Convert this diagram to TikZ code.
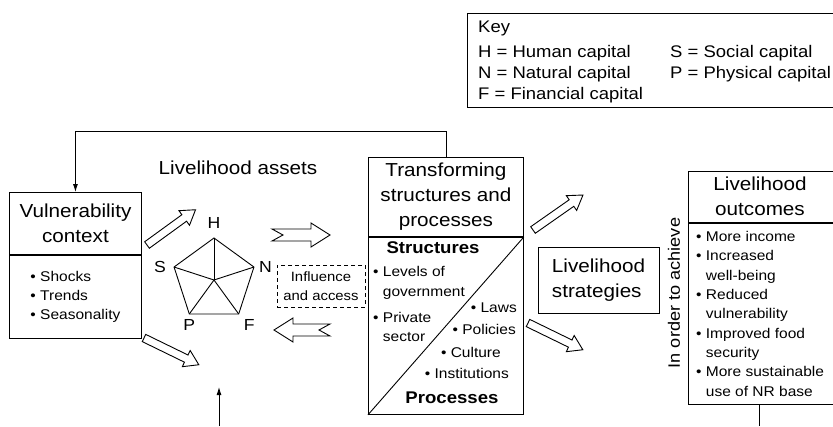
\documentclass[tikz,border=0pt]{standalone}
\usepackage{fontspec}
\setmainfont{Liberation Sans}[FakeStretch=1.1]
\usetikzlibrary{arrows.meta,positioning}

\tikzset{
  box/.style={draw, line width=0.9pt, inner sep=0pt},
  ttl/.style={font=\fontsize{18.8}{25}\selectfont, align=center},
  lst/.style={font=\fontsize{14.1}{19.3}\selectfont, align=left, inner sep=0pt},
  keytxt/.style={font=\fontsize{16.8}{21}\selectfont, anchor=base west, inner sep=0pt},
  hdr/.style={font=\bfseries\fontsize{16.9}{20}\selectfont, inner sep=0pt},
  vtxlbl/.style={font=\fontsize{16}{18}\selectfont, inner sep=0pt},
  arr/.style={line width=0.9pt, -{Latex[length=8pt,width=5pt]}},
  hollow/.style={line width=0.9pt, line join=miter}
}

% start, angle, length
\newcommand{\blockarrow}[3]{%
  \draw[hollow, shift={#1}, rotate=#2] (0,-4) -- ({#3-14},-4) -- ({#3-14},-9) -- (#3,0)
    -- ({#3-14},9) -- ({#3-14},4) -- (0,4) -- cycle;}
\newcommand{\notcharrow}[3]{%
  \draw[hollow, shift={#1}, rotate=#2] (0,-6) -- ({#3-19},-6) -- ({#3-19},-12) -- (#3,0)
    -- ({#3-19},12) -- ({#3-19},6) -- (0,6) -- (11,0) -- cycle;}

\begin{document}
\begin{tikzpicture}[x=1pt,y=-1pt]
\useasboundingbox (0,0) rectangle (833,426);

% key (runs off the right edge)
\node[box, anchor=north west, minimum width=420, minimum height=94] (keybox) at (467,13) {};
\node[keytxt] (keyhd) at (478,32) {Key};
\node[keytxt] (keyH) at (478,57) {H = Human capital};
\node[keytxt] (keyN) at (478,78) {N = Natural capital};
\node[keytxt] (keyF) at (478,99) {F = Financial capital};
\node[keytxt] (keyS) at (670,57) {S = Social capital};
\node[keytxt] (keyP) at (670,78) {P = Physical capital};

% vulnerability context
\node[box, ttl, anchor=north west, minimum width=132, minimum height=62] (vultitle) at (9,192) {Vulnerability\\context};
\node[box, anchor=north, minimum width=132, minimum height=83] (vulbody) at (vultitle.south) {};
\node[lst] (vullist) at (vulbody) {• Shocks\\• Trends\\• Seasonality};

% livelihood assets
\node[ttl] (assets) at (238,168) {Livelihood assets};
\coordinate (ctr) at (214,280);
\begin{scope}[shift={(ctr)}, yscale=-1]
  \foreach \n/\a in {H/90,N/18,F/-54,P/-126,S/162}
    \coordinate (\n) at (\a:42);
\end{scope}
\draw[hollow] (H) -- (N) -- (F) -- (P) -- (S) -- cycle;
\foreach \n in {H,N,F,P,S}
  \draw[line width=0.9pt] (ctr) -- (\n);
\node[vtxlbl, above=9pt of H] (Hlbl) {H};
\node[vtxlbl, left=8pt of S] (Slbl) {S};
\node[vtxlbl, right=5pt of N] (Nlbl) {N};
\node[vtxlbl, below=5pt of P] (Plbl) {P};
\node[vtxlbl, below right=5pt and 5pt of F] (Flbl) {F};

% transforming structures and processes
\node[box, ttl, anchor=north west, minimum width=155, minimum height=79] (trtitle) at (368,157) {Transforming\\structures and\\processes};
\node[box, anchor=north, minimum width=155, minimum height=177] (trbody) at (trtitle.south) {};
\draw[line width=0.9pt] (trbody.south west) -- (trbody.north east);
\node[hdr, anchor=base] (strhd) at (433,253) {Structures};
\node[lst, anchor=north west] (gov) at (373,266.5) {• Levels of\\\hphantom{• }government};
\node[lst, anchor=north west] (priv) at (373,312) {• Private\\\hphantom{• }sector};
\node[lst, anchor=base east] (laws) at (517,312) {• Laws};
\node[lst, anchor=base east] (pol) at (516,334) {• Policies};
\node[lst, anchor=base east] (cult) at (501,357) {• Culture};
\node[lst, anchor=base east] (inst) at (509,378) {• Institutions};
\node[hdr, anchor=base] (prochd) at (452,403) {Processes};

\node[box, dash pattern=on 4pt off 3pt, line width=0.8pt, minimum width=88, minimum height=42,
  font=\fontsize{13.5}{19}\selectfont, align=center] (infl) at (321,286) {Influence\\and access};

% feedback
\draw[arr] (trtitle.north) -- ++(0,-26) -| (vultitle.north);

% strategies and outcomes (outcomes box runs off the right edge)
\node[box, ttl, align=left, minimum width=121, minimum height=66] (strat) at (598.5,280) {Livelihood\\strategies};
\node[font=\fontsize{16.5}{20}\selectfont, rotate=90] (achieve) at (674,293) {In order to achieve};
\node[box, anchor=north west, minimum width=190, minimum height=51] (outtitle) at (688,171) {};
\node[ttl] (outttl) at (760,196.5) {Livelihood\\outcomes};
\node[box, anchor=north, minimum width=190, minimum height=181] (outbody) at (outtitle.south) {};
\node[lst, anchor=west] (outlist) at ([xshift=8pt]outbody.west) {• More income\\• Increased\\\hphantom{• }well-being\\• Reduced\\\hphantom{• }vulnerability\\• Improved food\\\hphantom{• }security\\• More sustainable\\\hphantom{• }use of NR base};

% block arrows
\blockarrow{(147,245)}{36}{60}
\blockarrow{(144,338)}{-26}{61}
\blockarrow{(533,230)}{35}{61}
\blockarrow{(528,323)}{-26}{61}
\notcharrow{(272,235)}{0}{58}
\notcharrow{(330,330)}{180}{56}

% loose ends
\coordinate (assetfoot) at (219,426);
\coordinate (assetin) at (219,387);
\draw[arr] (assetfoot) -- (assetin);
\coordinate (outfoot) at (759,426);
\draw[line width=0.9pt] (outfoot |- outbody.south) -- (outfoot);
\end{tikzpicture}
\end{document}
